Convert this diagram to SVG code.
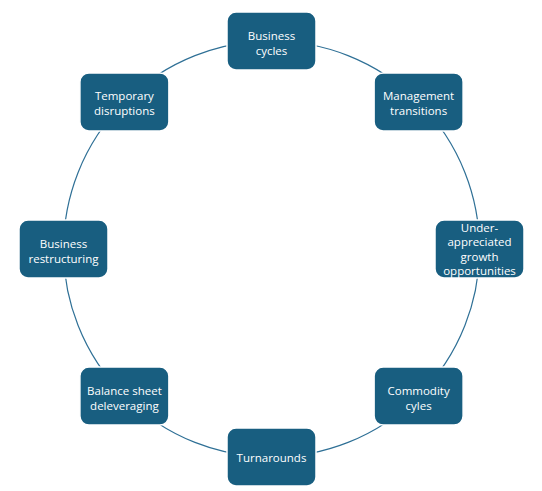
<svg xmlns="http://www.w3.org/2000/svg" width="542" height="491" viewBox="0 0 542 491">
<style>
.n rect{fill:#185E80;stroke:#ffffff;stroke-width:1.5}
.n text{fill:#ffffff;font-family:"Open Sans","Liberation Sans",Arial,sans-serif;font-size:11.5px;text-anchor:middle}
.c{fill:none;stroke:#2F7096;stroke-width:1.2}
</style>
<rect width="542" height="491" fill="#ffffff"/>
<g id="connectors">
<circle class="c" cx="271.5" cy="249" r="208"/>
</g>
<g id="n1" class="n"><rect x="227" y="12" width="89" height="58" rx="9"/><text x="271.5" y="39.5">Business</text><text x="271.5" y="54.5">cycles</text></g>
<g id="n2" class="n"><rect x="374.1" y="72.9" width="89" height="58" rx="9"/><text x="418.6" y="100.4">Management</text><text x="418.6" y="115.4">transitions</text></g>
<g id="n3" class="n"><rect x="435" y="220" width="89" height="58" rx="9"/><text x="479.5" y="232">Under-</text><text x="479.5" y="246.3">appreciated</text><text x="479.5" y="260.6">growth</text><text x="479.5" y="275">opportunities</text></g>
<g id="n4" class="n"><rect x="374.1" y="367.1" width="89" height="58" rx="9"/><text x="418.6" y="394.6">Commodity</text><text x="418.6" y="409.6">cyles</text></g>
<g id="n5" class="n"><rect x="227" y="428" width="89" height="58" rx="9"/><text x="271.5" y="461.5">Turnarounds</text></g>
<g id="n6" class="n"><rect x="79.9" y="367.1" width="89" height="58" rx="9"/><text x="124.4" y="394.6">Balance sheet</text><text x="124.4" y="409.6">deleveraging</text></g>
<g id="n7" class="n"><rect x="19" y="220" width="89" height="58" rx="9"/><text x="63.5" y="247.5">Business</text><text x="63.5" y="262.5">restructuring</text></g>
<g id="n8" class="n"><rect x="79.9" y="72.9" width="89" height="58" rx="9"/><text x="124.4" y="100.4">Temporary</text><text x="124.4" y="115.4">disruptions</text></g>
</svg>
